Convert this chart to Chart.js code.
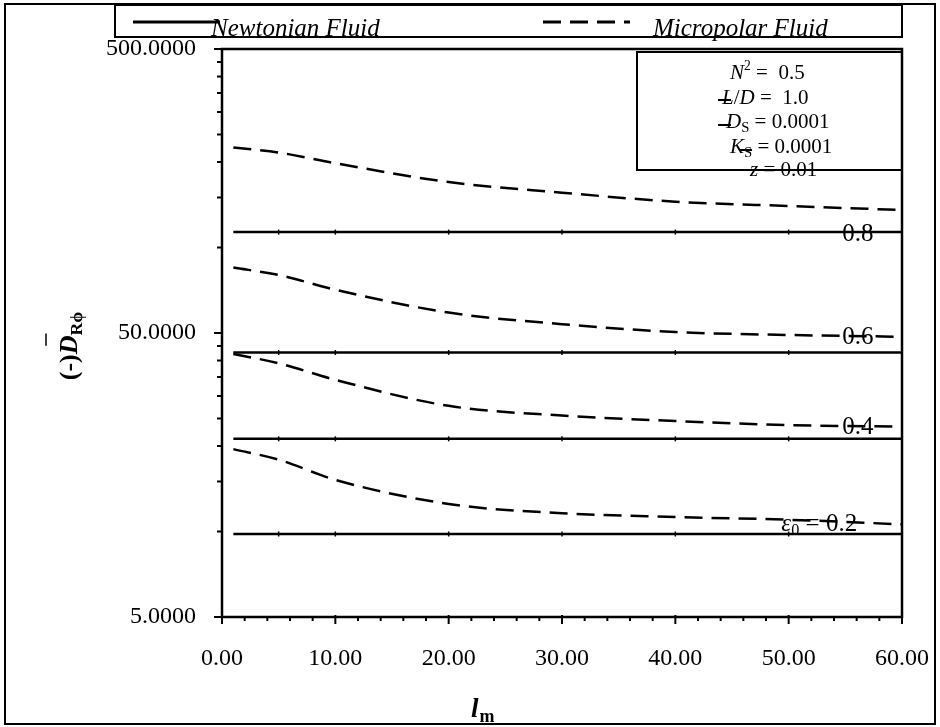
<!DOCTYPE html>
<html>
<head>
<meta charset="utf-8">
<script src="https://cdn.jsdelivr.net/npm/chart.js@4.4.0/dist/chart.umd.min.js"></script>
<style>
  body { margin: 0; background: #fff; }
  canvas { display: block; }
</style>
</head>
<body>
<canvas id="chart" width="940" height="727"></canvas>
<script>
// l_m values the curves were computed at
const lmValues = [1, 5, 10, 20, 30, 40, 50, 60];

// Newtonian fluid (solid lines, flat in l_m)
const newtonian02 = [9.8, 9.8, 9.8, 9.8, 9.8, 9.8, 9.8, 9.8];
const newtonian04 = [21.2, 21.2, 21.2, 21.2, 21.2, 21.2, 21.2, 21.2];
const newtonian06 = [42.7, 42.7, 42.7, 42.7, 42.7, 42.7, 42.7, 42.7];
const newtonian08 = [113.3, 113.3, 113.3, 113.3, 113.3, 113.3, 113.3, 113.3];

// Micropolar fluid (dashed lines)
const micropolar02 = [19.5, 17.9, 15.2, 12.5, 11.6, 11.25, 11.0, 10.6];
const micropolar04 = [42.2, 39.1, 34.2, 27.7, 25.6, 24.5, 23.7, 23.4];
const micropolar06 = [85.0, 80.0, 71.0, 59.0, 53.7, 50.4, 49.2, 48.5];
const micropolar08 = [225, 216, 198, 170, 156, 145, 140, 135.5];

// axis ticks
const xTickValues = [0, 10, 20, 30, 40, 50, 60];
const xTickLabels = ['0.00', '10.00', '20.00', '30.00', '40.00', '50.00', '60.00'];
const xMinorTicks = [2, 4, 6, 8, 12, 14, 16, 18, 22, 24, 26, 28, 32, 34, 36, 38, 42, 44, 46, 48, 52, 54, 56, 58];
const yTickValues = [5, 50, 500];
const yTickLabels = ['5.0000', '50.0000', '500.0000'];
const yMinorTicks = [10, 15, 20, 25, 30, 35, 40, 45, 100, 150, 200, 250, 300, 350, 400, 450];

const FONT = "'Liberation Serif', 'Times New Roman', serif";

function toPoints(values) {
    return values.map((v, i) => ({ x: lmValues[i], y: v }));
}

function newtonianSet(label, values) {
    return {
        label: label,
        data: toPoints(values),
        borderColor: '#000',
        borderWidth: 2.5,
        pointStyle: 'line',
        rotation: 90,
        pointRadius: [0, 2.5, 2.5, 2.5, 2.5, 2.5, 2.5, 0],
        pointBorderWidth: 1.5,
        pointBorderColor: '#000'
    };
}

function micropolarSet(label, values) {
    return {
        label: label,
        data: toPoints(values),
        borderColor: '#000',
        borderWidth: 2.5,
        borderDash: [18, 9],
        cubicInterpolationMode: 'monotone',
        pointRadius: 0
    };
}

// draw a run of text pieces (italic / sub / sup) one after another
function drawRuns(ctx, runs, x, y, size) {
    let cx = x;
    runs.forEach(r => {
        const s = size * (r.scale || 1);
        ctx.font = `${r.italic ? 'italic ' : ''}${r.bold ? 'bold ' : ''}${s}px ${FONT}`;
        ctx.fillText(r.t, cx, y + (r.dy || 0));
        cx += ctx.measureText(r.t).width;
    });
    return cx;
}

function runsWidth(ctx, runs, size) {
    let w = 0;
    runs.forEach(r => {
        const s = size * (r.scale || 1);
        ctx.font = `${r.italic ? 'italic ' : ''}${r.bold ? 'bold ' : ''}${s}px ${FONT}`;
        w += ctx.measureText(r.t).width;
    });
    return w;
}

function line(ctx, x1, y1, x2, y2) {
    ctx.beginPath();
    ctx.moveTo(x1, y1);
    ctx.lineTo(x2, y2);
    ctx.stroke();
}

const decorations = {
    id: 'decorations',
    beforeDatasetsDraw(chart) {
        const ctx = chart.ctx;
        const xs = chart.scales.x;
        const ys = chart.scales.y;
        ctx.save();
        ctx.fillStyle = '#000';
        ctx.textBaseline = 'middle';
        ctx.textAlign = 'left';

        // eccentricity labels on the curves
        const labels = [
            { runs: [{ t: '0.8' }], x: 56.1, y: newtonian08[7], dy: 2 },
            { runs: [{ t: '0.6' }], x: 56.1, y: micropolar06[7], dy: 1 },
            { runs: [{ t: '0.4' }], x: 56.1, y: micropolar04[7], dy: 1 },
            { runs: [{ t: 'ε', italic: true }, { t: '0', scale: 0.65, dy: 6 }, { t: ' = 0.2' }], x: 52.7, y: micropolar02[7], dy: 0 }
        ];
        labels.forEach(l => {
            const w = runsWidth(ctx, l.runs, 25);
            drawRuns(ctx, l.runs, xs.getPixelForValue(l.x) - w / 2, ys.getPixelForValue(l.y) + l.dy, 25);
        });
        ctx.restore();
    },
    afterDraw(chart) {
        const ctx = chart.ctx;
        const area = chart.chartArea;
        const xs = chart.scales.x;
        const ys = chart.scales.y;
        ctx.save();
        ctx.strokeStyle = '#000';
        ctx.fillStyle = '#000';

        // plot frame
        ctx.lineWidth = 2.5;
        ctx.strokeRect(area.left, area.top, area.right - area.left, area.bottom - area.top);

        // y ticks
        ctx.lineWidth = 2;
        yTickValues.forEach(v => {
            const py = ys.getPixelForValue(v);
            line(ctx, area.left - 8, py, area.left, py);
        });
        yMinorTicks.forEach(v => {
            const py = ys.getPixelForValue(v);
            line(ctx, area.left - 5, py, area.left, py);
        });
        // x ticks
        xTickValues.forEach(v => {
            const px = xs.getPixelForValue(v);
            line(ctx, px, area.bottom - 2, px, area.bottom + 7);
        });
        xMinorTicks.forEach(v => {
            const px = xs.getPixelForValue(v);
            line(ctx, px, area.bottom, px, area.bottom + 4);
        });

        // legend box
        ctx.lineWidth = 2;
        ctx.strokeRect(115, 5, 787, 32);
        ctx.lineWidth = 3;
        line(ctx, 133, 22, 220, 22);
        ctx.setLineDash([18, 9]);
        line(ctx, 543, 22, 630, 22);
        ctx.setLineDash([]);
        ctx.textBaseline = 'alphabetic';
        ctx.textAlign = 'left';
        ctx.font = `italic 25px ${FONT}`;
        ctx.fillText('Newtonian Fluid', 211, 36);
        ctx.fillText('Micropolar Fluid', 653, 36);

        // parameter box
        ctx.lineWidth = 2;
        ctx.strokeRect(637, 52, 265, 118);
        const fs = 21;
        drawRuns(ctx, [{ t: 'N', italic: true }, { t: '2', scale: 0.65, dy: -9 }, { t: ' =  0.5' }], 730, 79, fs);
        drawRuns(ctx, [{ t: 'L', italic: true }, { t: '/' }, { t: 'D', italic: true }, { t: ' =  1.0' }], 722, 104, fs);
        drawRuns(ctx, [{ t: 'D', italic: true }, { t: 'S', scale: 0.7, dy: 4 }, { t: ' = 0.0001' }], 726, 128, fs);
        drawRuns(ctx, [{ t: 'K', italic: true }, { t: 'S', scale: 0.7, dy: 4 }, { t: ' = 0.0001' }], 730, 153, fs);
        drawRuns(ctx, [{ t: 'z', italic: true }, { t: ' = 0.01' }], 750, 176, fs);
        ctx.lineWidth = 2;
        line(ctx, 718, 100, 731, 100);
        line(ctx, 718, 125, 731, 125);
        line(ctx, 740, 150, 752, 150);
        // box bottom edge runs through the last line
        line(ctx, 637, 170, 902, 170);

        // y axis title, rotated
        ctx.save();
        ctx.translate(77, 346);
        ctx.rotate(-Math.PI / 2);
        const yTitle = [
            { t: '(-)', bold: true },
            { t: 'D', bold: true, italic: true },
            { t: 'Rϕ', bold: true, scale: 0.68, dy: 5 }
        ];
        const tw = runsWidth(ctx, yTitle, 26);
        const startX = -tw / 2;
        const dStart = startX + runsWidth(ctx, [yTitle[0]], 26);
        const dWidth = runsWidth(ctx, [yTitle[1]], 26);
        drawRuns(ctx, yTitle, startX, 0, 26);
        ctx.lineWidth = 1.5;
        line(ctx, dStart + dWidth * 0.45, -31, dStart + dWidth + 2, -31);
        ctx.restore();

        // x axis title
        const xEnd = drawRuns(ctx, [{ t: 'l', bold: true, italic: true }], 471, 717, 27);
        drawRuns(ctx, [{ t: 'm', bold: true }], xEnd + 1, 722, 18);

        // outer border
        ctx.lineWidth = 2;
        ctx.strokeRect(5, 4, 930, 720);
        ctx.restore();
    }
};

const ctx = document.getElementById('chart').getContext('2d');
new Chart(ctx, {
    type: 'line',
    data: {
        datasets: [
            newtonianSet('Newtonian Fluid 0.2', newtonian02),
            newtonianSet('Newtonian Fluid 0.4', newtonian04),
            newtonianSet('Newtonian Fluid 0.6', newtonian06),
            newtonianSet('Newtonian Fluid 0.8', newtonian08),
            micropolarSet('Micropolar Fluid 0.2', micropolar02),
            micropolarSet('Micropolar Fluid 0.4', micropolar04),
            micropolarSet('Micropolar Fluid 0.6', micropolar06),
            micropolarSet('Micropolar Fluid 0.8', micropolar08)
        ]
    },
    options: {
        responsive: false,
        animation: false,
        devicePixelRatio: 1,
        layout: { padding: { top: 49, right: 38, left: 0, bottom: 0 } },
        plugins: {
            legend: { display: false },
            tooltip: { enabled: false }
        },
        scales: {
            x: {
                type: 'linear',
                min: 0,
                max: 60,
                grid: { display: false, drawTicks: false },
                border: { display: false },
                afterBuildTicks: scale => { scale.ticks = xTickValues.map(v => ({ value: v })); },
                afterFit: scale => {
                    scale.height = 110;
                    scale.paddingLeft = 0;
                    scale.paddingRight = 0;
                },
                ticks: {
                    autoSkip: false,
                    maxRotation: 0,
                    padding: 27,
                    color: '#000',
                    font: { family: FONT, size: 24 },
                    callback: v => xTickLabels[xTickValues.indexOf(v)] ?? ''
                }
            },
            y: {
                type: 'logarithmic',
                min: 5,
                max: 500,
                grid: { display: false, drawTicks: false },
                border: { display: false },
                afterBuildTicks: scale => { scale.ticks = yTickValues.map(v => ({ value: v })); },
                afterFit: scale => {
                    scale.width = 222;
                    scale.paddingTop = 0;
                    scale.paddingBottom = 0;
                },
                ticks: {
                    autoSkip: false,
                    padding: 26,
                    color: '#000',
                    font: { family: FONT, size: 24 },
                    callback: v => yTickLabels[yTickValues.indexOf(v)] ?? ''
                }
            }
        }
    },
    plugins: [decorations]
});
</script>
</body>
</html>
